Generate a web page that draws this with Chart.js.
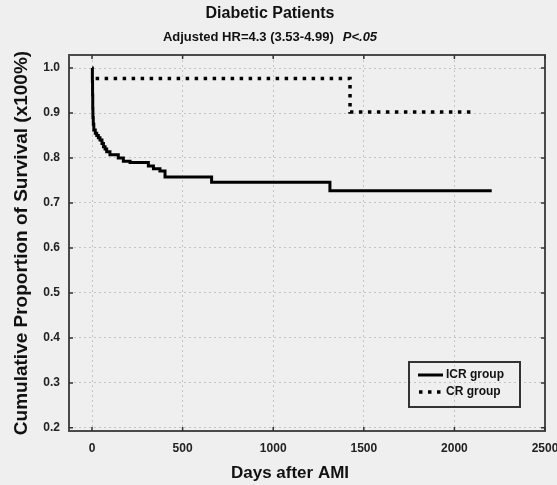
<!DOCTYPE html>
<html>
<head>
<meta charset="utf-8">
<script src="https://cdn.jsdelivr.net/npm/chart.js@4.4.1/dist/chart.umd.min.js"></script>
<style>
    html, body { margin: 0; padding: 0; background: #efefef; }
    #km_canvas { display: block; }
</style>
</head>
<body>
<canvas id="km_canvas" width="557" height="485"></canvas>
<script>
// Kaplan-Meier curves
const icr_days =     [0,   2,    3,    4,    5,    7,     10,    18,    26,   35,    44,   55,    63,    72,   81,    99,    145,  173,   210,  311,   339,   375,   403,   660,   1313,  2206];
const icr_survival = [1.0, 0.97, 0.94, 0.91, 0.89, 0.875, 0.862, 0.855, 0.85, 0.845, 0.84, 0.832, 0.825, 0.82, 0.814, 0.807, 0.80, 0.793, 0.79, 0.782, 0.776, 0.771, 0.758, 0.746, 0.727, 0.727];

const cr_days =     [20,    1424,  2103];
const cr_survival = [0.977, 0.902, 0.902];

const x_ticks = [0, 500, 1000, 1500, 2000, 2500];
const y_ticks = [0.2, 0.3, 0.4, 0.5, 0.6, 0.7, 0.8, 0.9, 1.0];

const chart_title = 'Diabetic Patients';
const chart_subtitle = 'Adjusted HR=4.3 (3.53-4.99)';
const chart_p_value = 'P<.05';
const x_title = 'Days after AMI';
const y_title = 'Cumulative Proportion of Survival (x100%)';
const series_names = ['ICR group', 'CR group'];

const font_family = "'Liberation Sans', Arial, sans-serif";
const cr_dash = [3.5, 5.5];

function to_points(days, values)
{
    return days.map((d, i) => ({ x: d, y: values[i] }));
}

const km_extras =
{
    id: 'km_extras',
    beforeDraw(chart)
    {
        const ctx = chart.ctx;
        ctx.save();
        ctx.fillStyle = '#efefef';
        ctx.fillRect(0, 0, chart.width, chart.height);
        ctx.restore();
    },
    afterDraw(chart)
    {
        const ctx = chart.ctx;
        const area = chart.chartArea;
        const xs = chart.scales.x;
        const ys = chart.scales.y;
        ctx.save();

        // frame round the plot
        ctx.strokeStyle = '#4a4a4a';
        ctx.lineWidth = 2;
        ctx.strokeRect(area.left, area.top, area.right - area.left, area.bottom - area.top);

        // small inner tick marks on all four sides
        ctx.lineWidth = 1.5;
        ctx.strokeStyle = '#333';
        ctx.beginPath();
        x_ticks.forEach(v =>
        {
            const px = xs.getPixelForValue(v);
            ctx.moveTo(px, area.bottom); ctx.lineTo(px, area.bottom - 4);
            ctx.moveTo(px, area.top); ctx.lineTo(px, area.top + 4);
        });
        y_ticks.forEach(v =>
        {
            const py = ys.getPixelForValue(v);
            ctx.moveTo(area.left, py); ctx.lineTo(area.left + 4, py);
            ctx.moveTo(area.right, py); ctx.lineTo(area.right - 4, py);
        });
        ctx.stroke();

        // titles
        ctx.fillStyle = '#111';
        ctx.textBaseline = 'middle';
        ctx.textAlign = 'center';
        ctx.font = 'bold 16px ' + font_family;
        ctx.fillText(chart_title, 270, 14);

        ctx.font = 'bold 13px ' + font_family;
        const sub_w = ctx.measureText(chart_subtitle).width;
        ctx.font = 'italic bold 13px ' + font_family;
        const p_w = ctx.measureText(chart_p_value).width;
        const gap = 9;
        let sx = 270 - (sub_w + gap + p_w) / 2;
        ctx.textAlign = 'left';
        ctx.font = 'bold 13px ' + font_family;
        ctx.fillText(chart_subtitle, sx, 37);
        ctx.font = 'italic bold 13px ' + font_family;
        ctx.fillText(chart_p_value, sx + sub_w + gap, 37);

        // x axis title
        ctx.textAlign = 'center';
        ctx.font = 'bold 17px ' + font_family;
        ctx.fillText(x_title, 290, 473);

        // legend box
        const lx = 409, ly = 362, lw = 111, lh = 45;
        ctx.strokeStyle = '#333';
        ctx.lineWidth = 2;
        ctx.strokeRect(lx, ly, lw, lh);

        ctx.strokeStyle = '#000';
        ctx.lineWidth = 3;
        ctx.beginPath();
        ctx.moveTo(418, 375); ctx.lineTo(443, 375);
        ctx.stroke();

        ctx.lineWidth = 3.5;
        ctx.setLineDash(cr_dash);
        ctx.beginPath();
        ctx.moveTo(419, 392); ctx.lineTo(446, 392);
        ctx.stroke();
        ctx.setLineDash([]);

        ctx.textAlign = 'left';
        ctx.font = 'bold 12px ' + font_family;
        ctx.fillText(series_names[0], 446, 375);
        ctx.fillText(series_names[1], 446, 392);

        ctx.restore();
    }
};

const data =
{
    datasets:
        [{
            label: series_names[0],
            data: to_points(icr_days, icr_survival),
            borderColor: '#000',
            borderWidth: 3,
            stepped: true,
            pointRadius: 0,
            fill: false
        },
        {
            label: series_names[1],
            data: to_points(cr_days, cr_survival),
            borderColor: '#000',
            borderWidth: 3.5,
            borderDash: cr_dash,
            borderCapStyle: 'butt',
            stepped: true,
            pointRadius: 0,
            fill: false
        }]
};

const config =
{
    type: 'line',
    data,
    plugins: [km_extras],
    options:
    {
        responsive: false,
        animation: false,
        events: [],
        layout: { padding: { top: 55, right: 12, left: 0, bottom: 0 } },
        plugins:
        {
            legend: { display: false },
            tooltip: { enabled: false },
            title: { display: false }
        },
        scales:
        {
            x:
            {
                type: 'linear',
                min: -127,
                max: 2500,
                afterBuildTicks: (scale) => { scale.ticks = x_ticks.map(v => ({ value: v })); },
                afterFit: (scale) => { scale.height = 54; scale.paddingLeft = 0; scale.paddingRight = 0; },
                grid: { color: '#c4c4c4', lineWidth: 1, drawTicks: false },
                border: { display: false, dash: [2, 3] },
                ticks:
                {
                    padding: 10,
                    color: '#222',
                    maxRotation: 0,
                    callback: (v) => String(v),
                    font: { family: font_family, size: 12, weight: 'bold' }
                }
            },
            y:
            {
                min: 0.193,
                max: 1.029,
                afterBuildTicks: (scale) => { scale.ticks = y_ticks.map(v => ({ value: v })); },
                afterFit: (scale) => { scale.width = 69; scale.paddingTop = 0; scale.paddingBottom = 0; },
                grid: { color: '#c4c4c4', lineWidth: 1, drawTicks: false },
                border: { display: false, dash: [2, 3] },
                ticks:
                {
                    padding: 9,
                    color: '#222',
                    callback: (v) => v.toFixed(1),
                    font: { family: font_family, size: 12, weight: 'bold' }
                },
                title:
                {
                    display: true,
                    text: y_title,
                    color: '#111',
                    padding: { top: 10, bottom: 0 },
                    font: { family: font_family, size: 19, weight: 'bold', lineHeight: 1.2 }
                }
            }
        }
    }
};

const km_chart = new Chart(document.querySelector('#km_canvas'), config);
</script>
</body>
</html>
